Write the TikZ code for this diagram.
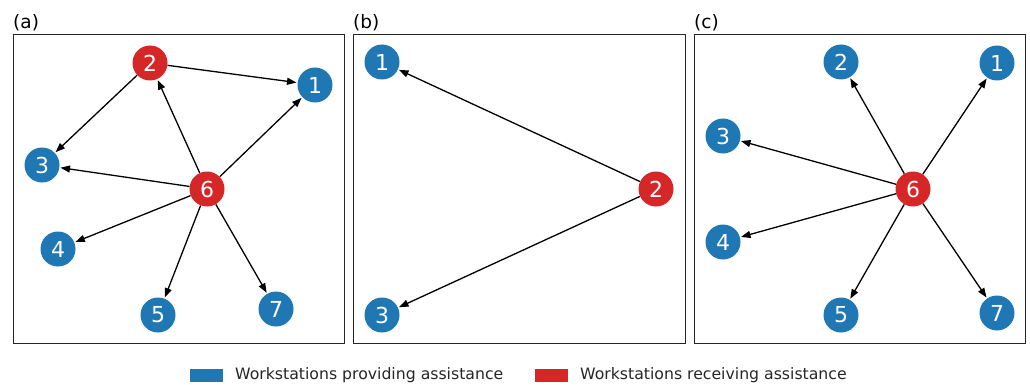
\documentclass[tikz,border=0pt]{standalone}
\usepackage{fontspec}
\setmainfont{DejaVu Sans}
\usetikzlibrary{arrows.meta}
\definecolor{provblue}{HTML}{1F77B4}
\definecolor{recvred}{HTML}{D62728}
\tikzset{
  panel/.style={draw=black!85, line width=1pt},
  plabel/.style={anchor=base west, inner sep=0pt, font=\fontsize{18.5}{18.5}\selectfont},
  ws/.style={circle, minimum size=35pt, inner sep=0pt, text=white, font=\fontsize{22}{22}\selectfont},
  prov/.style={ws, fill=provblue},
  recv/.style={ws, fill=recvred},
  link/.style={-{Stealth[length=9.5pt, width=7pt, inset=0pt]}, line width=1.3pt, black, shorten >=1pt},
  keybox/.style={minimum width=33pt, minimum height=13pt, inner sep=0pt},
  keytext/.style={anchor=west, inner sep=0pt, font=\fontsize{15.7}{15.7}\selectfont, text=black!85},
}

\begin{document}
\begin{tikzpicture}[x=1pt, y=-1pt]
\useasboundingbox (0,0) rectangle (1030,385);

% panel frames
\draw[panel] (13,35) rectangle (344,343);
\draw[panel] (353,35) rectangle (685,343);
\draw[panel] (694,35) rectangle (1025,343);
\node[plabel] at (13,29) {(a)};
\node[plabel] at (353,29) {(b)};
\node[plabel] at (694,29) {(c)};

% (a)
\node[recv] (a2) at (150,63) {2};
\node[prov] (a1) at (315,85) {1};
\node[prov] (a3) at (42,165) {3};
\node[recv] (a6) at (207,189) {6};
\node[prov] (a4) at (58,249) {4};
\node[prov] (a5) at (158,315) {5};
\node[prov] (a7) at (276,309) {7};
\draw[link] (a2) -- (a1);
\draw[link] (a2) -- (a3);
\draw[link] (a6) -- (a2);
\draw[link] (a6) -- (a1);
\draw[link] (a6) -- (a3);
\draw[link] (a6) -- (a4);
\draw[link] (a6) -- (a5);
\draw[link] (a6) -- (a7);

% (b)
\node[prov] (b1) at (382,62) {1};
\node[recv] (b2) at (656,189) {2};
\node[prov] (b3) at (382,315) {3};
\draw[link] (b2) -- (b1);
\draw[link] (b2) -- (b3);

% (c)
\node[prov] (c2) at (841,62) {2};
\node[prov] (c1) at (997,63) {1};
\node[prov] (c3) at (723,136) {3};
\node[recv] (c6) at (913,189) {6};
\node[prov] (c4) at (723,242) {4};
\node[prov] (c5) at (841,315) {5};
\node[prov] (c7) at (997,313) {7};
\draw[link] (c6) -- (c2);
\draw[link] (c6) -- (c1);
\draw[link] (c6) -- (c3);
\draw[link] (c6) -- (c4);
\draw[link] (c6) -- (c5);
\draw[link] (c6) -- (c7);

% legend
\node[keybox, fill=provblue] (kprov) at (206,375.5) {};
\node[keytext] (tprov) at (235,375.5) {Workstations providing assistance};
\node[keybox, fill=recvred] (krecv) at (551.5,375.5) {};
\node[keytext] (trecv) at (580,375.5) {Workstations receiving assistance};
\end{tikzpicture}
\end{document}
